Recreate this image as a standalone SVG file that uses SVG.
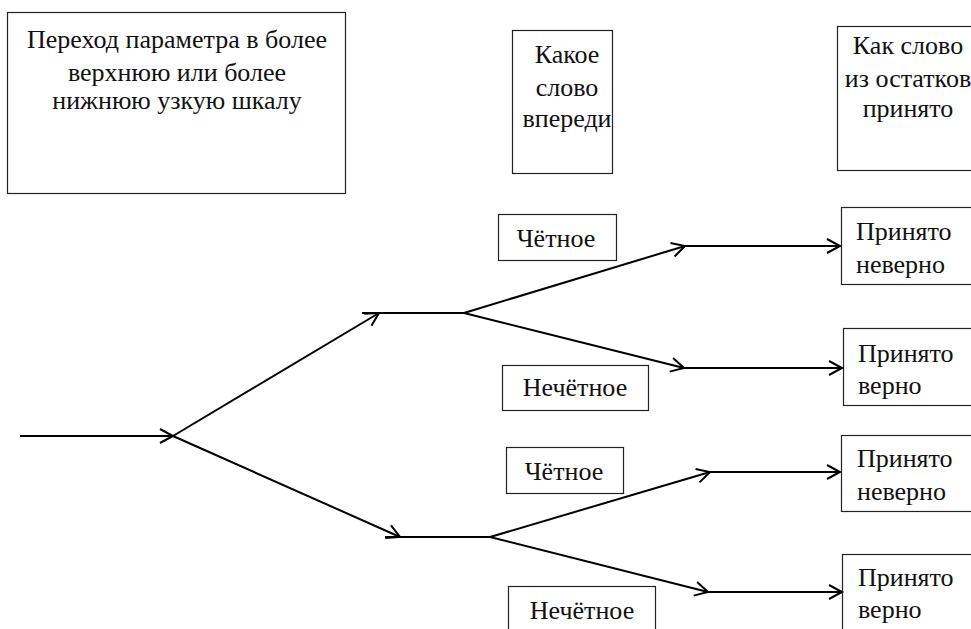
<svg xmlns="http://www.w3.org/2000/svg" width="971" height="629" viewBox="0 0 971 629">
<style>
.box{fill:#fff;stroke:#222;stroke-width:1.2}
.t{font-family:"Liberation Serif","DejaVu Serif","Times New Roman",serif;font-size:26px;fill:#111}
.c{text-anchor:middle}
.ln{fill:none;stroke:#000;stroke-width:2}
</style>
<defs>
<marker id="ah" markerUnits="userSpaceOnUse" markerWidth="20" markerHeight="20" viewBox="-14 -10 16 20" refX="0" refY="0" orient="auto">
<path d="M-13,-7 L0,0 L-13,7" fill="none" stroke="#000" stroke-width="2"/>
</marker>
</defs>
<rect width="971" height="629" fill="#fff"/>
<g id="n-title"><rect class="box" x="7.5" y="12.5" width="338" height="181"/>
<text class="t c" x="177" y="48">Переход параметра в более</text>
<text class="t c" x="177" y="81">верхнюю или более</text>
<text class="t c" x="177" y="109">нижнюю узкую шкалу</text></g>
<g id="n-ahead"><rect class="box" x="512.5" y="30.5" width="100" height="143"/>
<text class="t c" x="567" y="63">Какое</text>
<text class="t c" x="567" y="96">слово</text>
<text class="t c" x="567" y="127">впереди</text></g>
<g id="n-residue"><rect class="box" x="837.5" y="26.5" width="143" height="144"/>
<text class="t c" x="908" y="54">Как слово</text>
<text class="t c" x="908" y="87">из остатков</text>
<text class="t c" x="908" y="117">принято</text></g>
<g id="n-even1"><rect class="box" x="498.5" y="214.5" width="118" height="46"/>
<text class="t c" x="556" y="247">Чётное</text></g>
<g id="n-odd1"><rect class="box" x="502.5" y="365.5" width="146" height="45"/>
<text class="t c" x="575" y="396">Нечётное</text></g>
<g id="n-even2"><rect class="box" x="506.5" y="447.5" width="117" height="46"/>
<text class="t c" x="564" y="480">Чётное</text></g>
<g id="n-odd2"><rect class="box" x="508.5" y="586.5" width="147" height="60"/>
<text class="t c" x="582" y="619">Нечётное</text></g>
<g id="n-r1"><rect class="box" x="841.5" y="207.5" width="140" height="77"/>
<text class="t" x="856" y="240">Принято</text>
<text class="t" x="856" y="273">неверно</text></g>
<g id="n-r2"><rect class="box" x="843.5" y="328.5" width="140" height="77"/>
<text class="t" x="858" y="362">Принято</text>
<text class="t" x="858" y="394">верно</text></g>
<g id="n-r3"><rect class="box" x="841.5" y="435.5" width="140" height="76"/>
<text class="t" x="857" y="467">Принято</text>
<text class="t" x="857" y="500">неверно</text></g>
<g id="n-r4"><rect class="box" x="842.5" y="554.5" width="140" height="80"/>
<text class="t" x="858" y="586">Принято</text>
<text class="t" x="858" y="618">верно</text></g>
<g id="connectors">
<line class="ln" x1="20" y1="436" x2="173" y2="436" marker-end="url(#ah)"/>
<line class="ln" x1="173" y1="436" x2="379" y2="313" marker-end="url(#ah)"/>
<line class="ln" x1="362" y1="313" x2="464" y2="313"/>
<line class="ln" x1="173" y1="436" x2="400" y2="537" marker-end="url(#ah)"/>
<line class="ln" x1="385" y1="537" x2="490" y2="537"/>
<line class="ln" x1="464" y1="313" x2="685" y2="246" marker-end="url(#ah)"/>
<line class="ln" x1="685" y1="246" x2="840" y2="246" marker-end="url(#ah)"/>
<line class="ln" x1="464" y1="313" x2="684" y2="368" marker-end="url(#ah)"/>
<line class="ln" x1="684" y1="368" x2="842" y2="368" marker-end="url(#ah)"/>
<line class="ln" x1="490" y1="537" x2="710" y2="472" marker-end="url(#ah)"/>
<line class="ln" x1="710" y1="472" x2="840" y2="472" marker-end="url(#ah)"/>
<line class="ln" x1="490" y1="537" x2="708" y2="592" marker-end="url(#ah)"/>
<line class="ln" x1="708" y1="592" x2="842" y2="592" marker-end="url(#ah)"/>
</g>
</svg>
